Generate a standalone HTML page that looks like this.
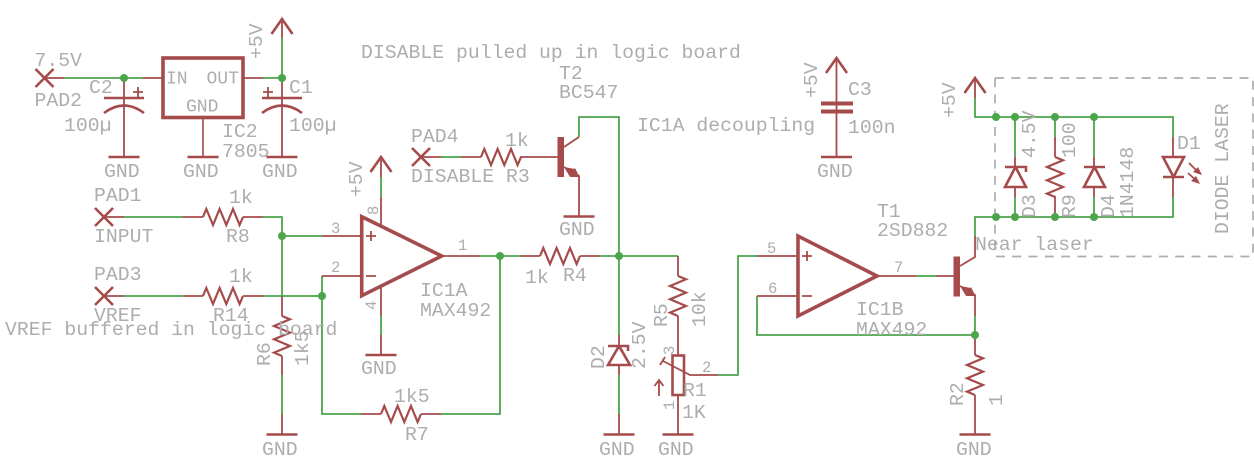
<!DOCTYPE html>
<html>
<head>
<meta charset="utf-8">
<style>
html,body{margin:0;padding:0;background:#fff;width:1254px;height:460px;overflow:hidden}
svg{display:block}
text{font-family:"Liberation Mono",monospace;fill:#adadad;font-size:19.8px}
text.s{font-size:15.5px}
text.m{font-size:18px}
.r{fill:none;stroke:#a54b4b;stroke-width:1.8;stroke-linejoin:miter}
.g{fill:none;stroke:#4ba54b;stroke-width:1.8}
.b{fill:none;stroke:#a54b4b;stroke-width:3.6;stroke-linejoin:miter}
.p{fill:none;stroke:#a54b4b;stroke-width:2.6}
.j{fill:#4ba54b;stroke:none}
.f{fill:#a54b4b;stroke:none}
</style>
</head>
<body>
<svg width="1254" height="460" viewBox="0 0 1254 460" xmlns="http://www.w3.org/2000/svg">
<defs>
<path id="res" d="M0,0 L3.3,-8 L10,8 L16.6,-8 L23.3,8 L30,-8 L36.6,8 L40,0" fill="none" stroke="#a54b4b" stroke-width="2.2"/>
<path id="pad" d="M-9,-9 L9,9 M-9,9 L9,-9" fill="none" stroke="#a54b4b" stroke-width="2.6"/>
<path id="gnd" d="M-15.5,0 H15.5" fill="none" stroke="#a54b4b" stroke-width="2.6"/>
<path id="vcc" d="M-10.5,15 L0,0 L10.5,15" fill="none" stroke="#a54b4b" stroke-width="2.6"/>
</defs>

<!-- dashed box -->
<path d="M995,78H1253V256.5H995V78" fill="none" stroke="#adadad" stroke-width="1.7" stroke-dasharray="9 7.3"/>

<!-- green wires -->
<path class="g" d="M64,78H143 M263,78H282 M282,78V38
M124,217H183 M263,217H282V296 M282,236H322
M124,296H183 M263,296H322
M282,375V414
M322,276V414H361 M441,414H500V256
M381,177V197 M381,316V335
M441,157H461
M579,137V117H619V256
M480,256H520 M600,256H678
M619,256V335 M619,375V414
M718,375H738V256H757
M916,276H936
M757,296V335H975 M975,316V335
M975,236V217H1173V197 M1015,197V217 M1094,197V217
M975,98V117H1173V137 M1015,117V157 M1055,117V137 M1094,117V157"/>

<!-- red pin lines -->
<path class="r" d="M44,78H64 M143,78H163 M243,78H263 M282,38V19
M124,78V157 M282,78V157
M104,217H124 M183,217H203 M243,217H263
M104,296H124 M183,296H203 M243,296H263
M282,296V316 M282,356V375 M282,414V434
M322,236H361 M322,276H361
M361,414H381 M421,414H441
M381,157V177 M381,197V226 M381,286V316 M381,335V355
M442,256H480 M520,256H540 M580,256H600
M421,157H441 M461,157H481 M520,157H558
M564,147L579,137 M564,167L579,176V216
M619,335V346 M619,365V375 M619,414V434
M678,256V276 M678,316V356 M678,395V434
M663,361L690,375H718
M757,256H797 M757,296H797
M877,276H916 M936,276H954
M960,266L975,257V236 M960,286L975,295V316
M975,335V355 M975,395V434
M975,78V98
M1015,157V167 M1015,187V197
M1055,137V157 M1055,196V217
M1094,157V167 M1094,187V197
M1173,137V157 M1173,177V197"/>
<path d="M203,117V157" fill="none" stroke="#b56a6a" stroke-width="2"/>

<!-- resistors -->
<use href="#res" transform="translate(203,217)"/>
<use href="#res" transform="translate(203,296)"/>
<use href="#res" transform="translate(282,316) rotate(90)"/>
<use href="#res" transform="translate(381,414)"/>
<use href="#res" transform="translate(481,157)"/>
<use href="#res" transform="translate(540,256)"/>
<use href="#res" transform="translate(678,276) rotate(90)"/>
<use href="#res" transform="translate(975,355) rotate(90)"/>
<use href="#res" transform="translate(1055,157) rotate(90)"/>

<!-- pads -->
<use href="#pad" transform="translate(44.5,78)"/>
<use href="#pad" transform="translate(104,217)"/>
<use href="#pad" transform="translate(104,296)"/>
<use href="#pad" transform="translate(421,157)"/>

<!-- gnd bars -->
<use href="#gnd" transform="translate(124,157)"/>
<use href="#gnd" transform="translate(203,157)"/>
<use href="#gnd" transform="translate(282,157)"/>
<use href="#gnd" transform="translate(282,434.5)"/>
<use href="#gnd" transform="translate(381,355)"/>
<use href="#gnd" transform="translate(579,216.5)"/>
<use href="#gnd" transform="translate(619,434.5)"/>
<use href="#gnd" transform="translate(678,434.5)"/>
<use href="#gnd" transform="translate(975,434.5)"/>
<use href="#gnd" transform="translate(836.5,157)"/>

<!-- supply arrows -->
<use href="#vcc" transform="translate(282,19)"/>
<use href="#vcc" transform="translate(381,157)"/>
<use href="#vcc" transform="translate(975,78)"/>
<use href="#vcc" transform="translate(836.5,58)"/>

<!-- regulator -->
<rect class="b" x="163" y="58" width="80" height="59.5"/>

<!-- capacitors -->
<path class="p" d="M104,98H144 M104,113Q124,98 144,113"/>
<path class="p" d="M262,98H302 M262,113Q282,98 302,113"/>
<path class="r" d="M133,92H143 M138,87V97 M263,92H273 M268,87V97" stroke-width="2"/>

<!-- C3 -->
<path class="r" d="M836.5,58V157"/>
<path d="M821,103.5H853 M821,111.5H853" fill="none" stroke="#a54b4b" stroke-width="4"/>

<!-- op amps -->
<path class="b" d="M361.7,216.7V295.7L441.7,256Z"/>
<path class="b" d="M798,236V316L877,276Z"/>
<path class="r" d="M366,236H376 M371,231V241 M366,276H376 M802,256H812 M807,251V261 M802,296H812"/>

<!-- transistors -->
<rect class="f" x="557.5" y="137" width="6.5" height="40"/>
<path class="f" d="M570,177H579.5L575,168Z"/>
<path class="f" d="M564,167L575,169L570,177Z"/>
<rect class="f" x="953.5" y="256.5" width="6.5" height="40"/>
<path class="f" d="M966,296H975.5L971,287Z"/>
<path class="f" d="M960,286L971,288L966,296Z"/>

<!-- diodes -->
<path class="p" d="M608,346H628V351 M619,346L608,365H630Z"/>
<path class="p" d="M1005,167H1026V172 M1015.5,167L1005,187H1026Z"/>
<path class="p" d="M1084,167H1105 M1094.5,167L1084,187H1105Z"/>
<path class="p" d="M1163,157H1184L1173.5,177Z M1163,177H1184"/>
<path class="r" d="M1189,163L1199,173 M1188,173L1198,182"/>
<path class="f" d="M1202,175L1193,172L1198,167Z M1200,184L1191,181L1196,176Z"/>

<!-- pot -->
<rect class="p" x="672.5" y="355.5" width="11.5" height="39.5"/>
<path class="r" d="M660,365L665,357 M659,396V380 M654.5,386L659,380L663.5,386" stroke-width="2"/>

<!-- junctions -->
<g class="j">
<circle cx="124" cy="78" r="4"/><circle cx="282" cy="78" r="4"/>
<circle cx="282" cy="236" r="4"/><circle cx="322" cy="296" r="4"/>
<circle cx="500" cy="256" r="4"/><circle cx="619" cy="256" r="4"/>
<circle cx="975" cy="335" r="4"/>
<circle cx="996" cy="117" r="4"/><circle cx="1015" cy="117" r="4"/><circle cx="1055" cy="117" r="4"/><circle cx="1094" cy="117" r="4"/>
<circle cx="996" cy="217" r="4"/><circle cx="1015" cy="217" r="4"/><circle cx="1055" cy="217" r="4"/><circle cx="1094" cy="217" r="4"/>
</g>

<!-- labels -->
<text x="34.5" y="66">7.5V</text>
<text x="34.5" y="106">PAD2</text>
<text x="89" y="93">C2</text>
<text x="64" y="131">100µ</text>
<text x="289" y="93">C1</text>
<text x="289" y="131">100µ</text>
<text class="m" x="166" y="83.5">IN</text>
<text class="m" x="206.5" y="83.5">OUT</text>
<text class="m" x="186" y="111.5">GND</text>
<text x="222" y="137">IC2</text>
<text x="222" y="157">7805</text>
<text x="104" y="177">GND</text>
<text x="183" y="177">GND</text>
<text x="262" y="177">GND</text>
<text transform="translate(262,59) rotate(-90)">+5V</text>

<text x="94" y="201">PAD1</text>
<text x="229" y="203">1k</text>
<text x="94" y="242">INPUT</text>
<text x="226" y="242">R8</text>
<text class="s" x="331" y="233">3</text>
<text class="s" x="331" y="272">2</text>
<text x="94" y="280">PAD3</text>
<text x="229" y="282">1k</text>
<text x="94" y="321">VREF</text>
<text x="213" y="321">R14</text>
<text x="5" y="335">VREF buffered in logic board</text>
<text transform="translate(270,366) rotate(-90)">R6</text>
<text transform="translate(308,366) rotate(-90)">1k5</text>
<text x="262" y="455">GND</text>

<text x="361" y="58">DISABLE pulled up in logic board</text>
<text x="559" y="79">T2</text>
<text x="559" y="98">BC547</text>
<text x="637" y="131">IC1A decoupling</text>
<text x="411" y="142">PAD4</text>
<text x="505" y="146">1k</text>
<text x="411" y="182">DISABLE R3</text>
<text x="559" y="235">GND</text>
<text transform="translate(362,197) rotate(-90)">+5V</text>
<text class="s" transform="translate(378,215) rotate(-90)">8</text>
<text class="s" x="458" y="250">1</text>
<text class="s" transform="translate(376,310) rotate(-90)">4</text>
<text x="420" y="296">IC1A</text>
<text x="420" y="316">MAX492</text>
<text x="361" y="374">GND</text>
<text x="394" y="402">1k5</text>
<text x="405" y="440">R7</text>
<text x="525" y="283">1k</text>
<text x="563" y="281">R4</text>

<text transform="translate(604,369) rotate(-90)">D2</text>
<text transform="translate(645,369) rotate(-90)">2.5V</text>
<text x="599" y="455">GND</text>
<text transform="translate(667,327) rotate(-90)">R5</text>
<text transform="translate(705,327) rotate(-90)">10k</text>
<text class="s" transform="translate(674,355) rotate(-90)">3</text>
<text class="s" transform="translate(674,410) rotate(-90)">1</text>
<text class="s" x="702" y="372">2</text>
<text x="683" y="396">R1</text>
<text x="682" y="418">1K</text>
<text x="658" y="455">GND</text>

<text transform="translate(817,98) rotate(-90)">+5V</text>
<text x="848" y="95">C3</text>
<text x="848" y="133">100n</text>
<text x="817" y="177">GND</text>

<text class="s" x="767" y="253">5</text>
<text class="s" x="768" y="293">6</text>
<text class="s" x="894" y="272">7</text>
<text x="877" y="217">T1</text>
<text x="877" y="236">2SD882</text>
<text x="856" y="315">IC1B</text>
<text x="856" y="335">MAX492</text>
<text x="975" y="250">Near laser</text>
<text transform="translate(963,406) rotate(-90)">R2</text>
<text transform="translate(1002,406) rotate(-90)">1</text>
<text x="956" y="455">GND</text>

<text transform="translate(955,118) rotate(-90)">+5V</text>
<text transform="translate(1035,158) rotate(-90)">4.5V</text>
<text transform="translate(1035,218) rotate(-90)">D3</text>
<text transform="translate(1075,158) rotate(-90)">100</text>
<text transform="translate(1075,218) rotate(-90)">R9</text>
<text transform="translate(1114,218) rotate(-90)">D4</text>
<text transform="translate(1133,218) rotate(-90)">1N4148</text>
<text x="1177" y="149">D1</text>
<text transform="translate(1228,234) rotate(-90)">DIODE LASER</text>
</svg>
</body>
</html>
